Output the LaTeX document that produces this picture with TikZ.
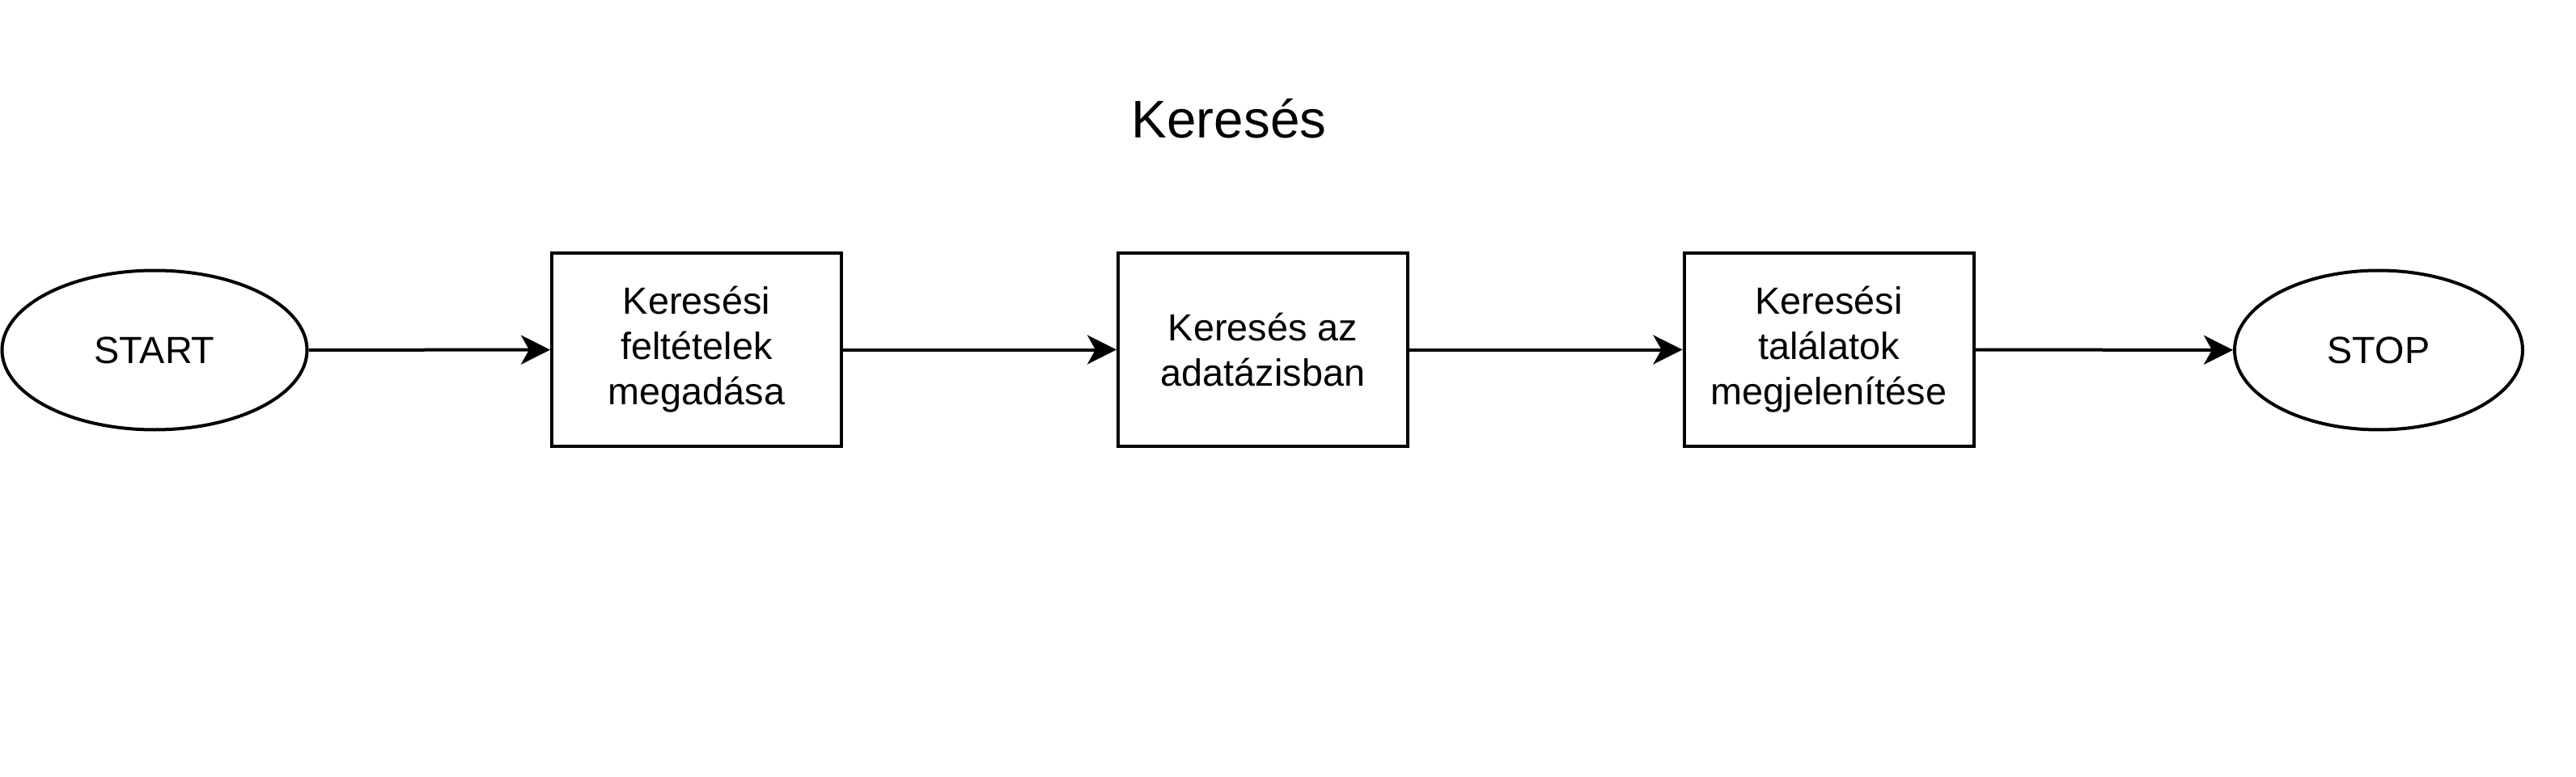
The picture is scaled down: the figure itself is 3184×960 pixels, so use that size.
\documentclass[tikz,border=0pt]{standalone}
\usepackage{fontspec}
\setmainfont{Liberation Sans}
\usetikzlibrary{shapes.geometric,arrows.meta}

\begin{document}
\begin{tikzpicture}[x=0.5pt,y=0.5pt,
   stepbox/.style={draw,line width=2pt,rectangle,minimum width=179pt,minimum height=119pt,inner sep=0pt,align=center,font=\fontsize{23.4}{28}\selectfont},
   terminal/.style={draw,line width=2pt,ellipse,minimum height=98.5pt,inner sep=0pt,font=\fontsize{23.4}{28}\selectfont},
   flow/.style={-{Stealth[length=18pt,width=18pt,inset=5pt]},line width=2pt}]
   \useasboundingbox (0,0) rectangle (3184,960);
   \node[anchor=base,font=\fontsize{32.8}{40}\selectfont] (title) at (1519,789) {Keresés};
   \node[terminal,minimum width=188.5pt] (start) at (191,527) {START};
   \node[stepbox] (feltetel) at (861,527.5) {Keresési\\feltételek\\megadása};
   \node[stepbox] (adatbazis) at (1561,527.5) {Keresés az\\adatázisban};
   \node[stepbox] (talalat) at (2260.5,527.5) {Keresési\\találatok\\megjelenítése};
   \node[terminal,minimum width=178pt] (stop) at (2940,527) {STOP};
   \draw[flow] (start) -- (feltetel);
   \draw[flow] (feltetel) -- (adatbazis);
   \draw[flow] (adatbazis) -- (talalat);
   \draw[flow] (talalat) -- (stop);
\end{tikzpicture}
\end{document}
